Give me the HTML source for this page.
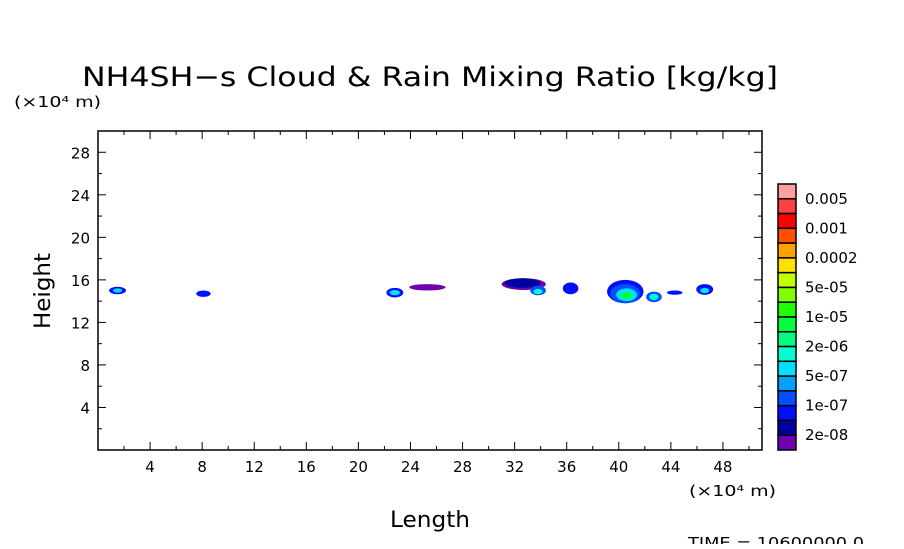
<!DOCTYPE html>
<html><head><meta charset="utf-8"><style>
body{margin:0;background:#fff;}
svg text{font-family:"DejaVu Sans","Liberation Sans",sans-serif;}
</style></head><body>
<svg id="c" width="904" height="544" xmlns="http://www.w3.org/2000/svg">
<text x="82" y="86" font-size="27" textLength="696" lengthAdjust="spacingAndGlyphs">NH4SH−s Cloud &amp; Rain Mixing Ratio [kg/kg]</text>
<text x="14" y="107" font-size="15" textLength="87" lengthAdjust="spacingAndGlyphs">(×10⁴ m)</text>
<text x="689" y="496" font-size="15" textLength="87" lengthAdjust="spacingAndGlyphs">(×10⁴ m)</text>
<text x="390" y="527" font-size="22" textLength="80" lengthAdjust="spacingAndGlyphs">Length</text>
<text x="50" y="291" font-size="22" text-anchor="middle" textLength="76" lengthAdjust="spacingAndGlyphs" transform="rotate(-90 50 291)">Height</text>
<text x="688" y="548" font-size="15" textLength="176" lengthAdjust="spacingAndGlyphs">TIME = 10600000.0</text>
<g id="blobs"></g>
<rect x="98" y="131" width="664" height="319" fill="none" stroke="#000" stroke-width="1.5"/>
<g id="axes"></g>
<g id="cbar"></g>
</svg>
<script>
const xTicks=[4,8,12,16,20,24,28,32,36,40,44,48];
const yTicks=[4,8,12,16,20,24,28];
const cbColors=["#ffa0a0","#ff4040","#ff0000","#ff5000","#ffa000","#ffe000","#c0ff00","#80ff00","#20ff00","#00ff40","#00ff80","#00ffd0","#00e0ff","#00a0ff","#0050ff","#0010ff","#0000a0","#7000b0"];
const cbLabels=["0.005","0.001","0.0002","5e-05","1e-05","2e-06","5e-07","1e-07","2e-08"];
// blobs: x, y (data units), rx, ry, color index
const blobX=[1.5,1.5,8.1,22.8,22.8,25.3,32.7,32.6,33.8,33.8,36.3,40.5,40.5,40.6,40.6,42.7,42.7,44.3,46.6,46.6];
const blobY=[15.0,15.0,14.7,14.8,14.8,15.3,15.6,15.7,15.0,14.9,15.2,14.9,14.7,14.6,14.5,14.4,14.4,14.8,15.1,15.0];
const blobRX=[0.65,0.35,0.55,0.65,0.4,1.4,1.7,1.4,0.6,0.35,0.6,1.4,1.15,0.8,0.45,0.6,0.35,0.6,0.65,0.35];
const blobRY=[0.35,0.2,0.3,0.45,0.25,0.3,0.55,0.45,0.45,0.25,0.55,1.1,0.9,0.6,0.35,0.5,0.3,0.2,0.5,0.25];
const blobC=[15,12,15,15,12,17,17,16,14,11,15,15,14,12,9,14,11,15,15,12];
const X0=98,X1=762,Y0=450,Y1=131,xMax=51,yMax=30;
const sx=v=>X0+v/xMax*(X1-X0), sy=v=>Y0-v/yMax*(Y0-Y1);
const NS="http://www.w3.org/2000/svg";
function mk(t,a,p){const e=document.createElementNS(NS,t);for(const k in a)e.setAttribute(k,a[k]);p.appendChild(e);return e;}
const bg=document.getElementById('blobs');
for(let i=0;i<blobX.length;i++){
 const e=mk('ellipse',{cx:sx(blobX[i]),cy:sy(blobY[i]),rx:blobRX[i]/xMax*(X1-X0),ry:blobRY[i]/yMax*(Y0-Y1),fill:cbColors[blobC[i]]},bg);
 
 
}
const ax=document.getElementById('axes');
for(let v=2;v<xMax;v+=2){const maj=v%4==0;
 mk('line',{x1:sx(v),x2:sx(v),y1:Y0,y2:Y0-(maj?8:4),stroke:'#000'},ax);
 mk('line',{x1:sx(v),x2:sx(v),y1:Y1,y2:Y1+(maj?8:4),stroke:'#000'},ax);}
for(let v=2;v<yMax;v+=2){const maj=v%4==0;
 mk('line',{x1:X0,x2:X0+(maj?8:4),y1:sy(v),y2:sy(v),stroke:'#000'},ax);
 mk('line',{x1:X1,x2:X1-(maj?8:4),y1:sy(v),y2:sy(v),stroke:'#000'},ax);}
xTicks.forEach(v=>{const t=mk('text',{x:sx(v),y:Y0+22,'font-size':15,'text-anchor':'middle'},ax);t.textContent=v;
 
 });
yTicks.forEach(v=>{const t=mk('text',{x:X0-8,y:sy(v)+6,'font-size':15,'text-anchor':'end'},ax);t.textContent=v;
 
 });
const cb=document.getElementById('cbar');
const cTop=184,cBot=450,bh=(cBot-cTop)/cbColors.length;
cbColors.forEach((c,i)=>{const r=mk('rect',{x:778,y:cTop+i*bh,width:18,height:bh,fill:c,stroke:'#000','stroke-width':1.5},cb);
 
 });
cbLabels.forEach((l,i)=>{const t=mk('text',{x:805,y:cTop+(2*i+1)*bh+5,'font-size':15},cb);t.textContent=l;
 
 });
</script>
</body></html>
